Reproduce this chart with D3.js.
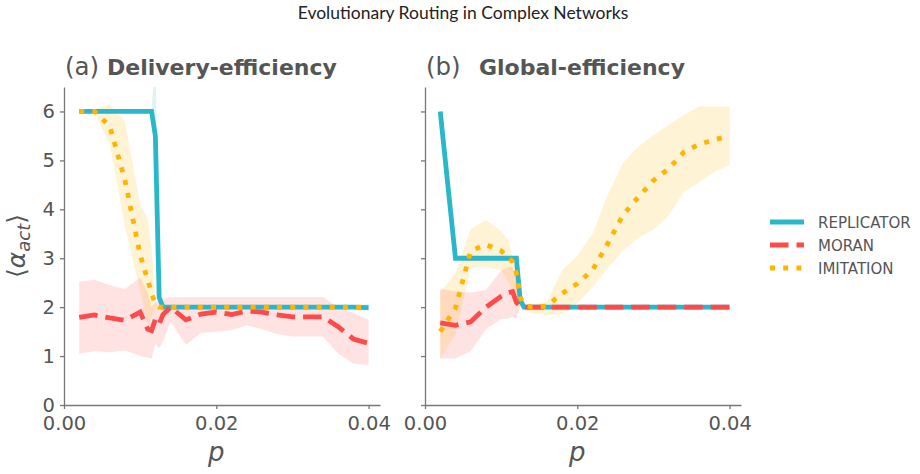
<!DOCTYPE html>
<html lang="en">
<head>
  <meta charset="UTF-8" />
  <title>Evolutionary Routing in Complex Networks</title>
  <script src="https://d3js.org/d3.v7.min.js"></script>
  <style>
    body { margin: 0; background: #fff; }
    svg { display: block; font-family: 'DejaVu Sans', sans-serif; }
    .axis path, .axis line { stroke: #777; stroke-width: 1.3px; }
    .axis text { fill: #555; font-size: 19.5px; font-family: 'DejaVu Sans', sans-serif; }
  </style>
</head>
<body>
  <svg id="chart" width="920" height="474"></svg>

  <script>
    // p values shared by every series
    const P = [0.002, 0.004, 0.006, 0.008, 0.010, 0.011, 0.0115, 0.012, 0.0125, 0.013, 0.014, 0.016,
               0.018, 0.020, 0.022, 0.024, 0.026, 0.028, 0.030, 0.032, 0.034, 0.036, 0.038, 0.040];

    // (a) Delivery-efficiency
    const repA   = [6, 6, 6, 6, 6, 6, 6, 5.5, 2.2, 2, 2, 2, 2, 2, 2, 2, 2, 2, 2, 2, 2, 2, 2, 1.99];
    const repALo = [6, 6, 6, 6, 6, 6, 6, 5.0, 2.2, 2, 2, 2, 2, 2, 2, 2, 2, 2, 2, 2, 2, 2, 1.98, 1.93];
    const repAHi = [6, 6, 6, 6, 6, 6, 6, 7.2, 2.2, 2, 2, 2, 2, 2, 2, 2, 2, 2, 2, 2, 2, 2, 2.02, 2.07];
    const morA   = [1.79, 1.84, 1.78, 1.73, 1.9, 1.55, 1.52, 1.75, 1.65, 1.85, 2.0, 1.74, 1.86, 1.9, 1.85, 1.92, 1.9, 1.84, 1.8, 1.8, 1.8, 1.6, 1.35, 1.26];
    const morALo = [1.05, 1.1, 1.08, 1.12, 1.0, 0.97, 0.95, 1.26, 1.16, 1.3, 1.7, 1.23, 1.47, 1.5, 1.53, 1.63, 1.55, 1.45, 1.4, 1.4, 1.4, 1.05, 0.85, 0.82];
    const morAHi = [2.52, 2.56, 2.45, 2.37, 2.6, 2.3, 2.0, 2.1, 2.15, 2.18, 2.2, 2.2, 2.21, 2.21, 2.21, 2.21, 2.21, 2.21, 2.21, 2.21, 2.21, 2.0, 1.88, 1.74];
    const imiA   = [6, 6, 5.7, 4.6, 3.07, 2.55, 2.3, 2.05, 2, 2, 2, 2, 2, 2, 2, 2, 2, 2, 2, 2, 2, 2, 2, 2];
    const imiALo = [6, 5.97, 5.35, 3.65, 2.35, 1.65, 1.8, 2, 2, 2, 2, 2, 2, 2, 2, 2, 2, 2, 2, 2, 2, 2, 2, 2];
    const imiAHi = [6, 6.03, 6.15, 5.8, 4.1, 3.8, 3.2, 2.1, 2, 2, 2, 2, 2, 2, 2, 2, 2, 2, 2, 2, 2, 2, 2, 2];

    // (b) Global-efficiency
    const repB   = [6, 3, 3, 3, 3, 3, 3, 3, 2.15, 2, 2, 2, 2, 2, 2, 2, 2, 2, 2, 2, 2, 2, 2, 2];
    const morB   = [1.68, 1.63, 1.7, 2.0, 2.22, 2.3, 2.32, 2.1, 2, 2, 2, 2, 2, 2, 2, 2, 2, 2, 2, 2, 2, 2, 2, 2];
    const morBLo = [0.95, 0.95, 1.1, 1.55, 1.76, 1.77, 1.8, 1.77, 2, 2, 2, 2, 2, 2, 2, 2, 2, 2, 2, 2, 2, 2, 2, 2];
    const morBHi = [2.38, 2.32, 2.3, 2.35, 2.75, 2.83, 2.83, 2.6, 2, 2, 2, 2, 2, 2, 2, 2, 2, 2, 2, 2, 2, 2, 2, 2];
    const imiB   = [1.5, 1.98, 3.15, 3.28, 3.15, 3.0, 2.93, 2.7, 2.2, 2.05, 2.0, 2.02, 2.28, 2.48, 2.76, 3.3, 3.88, 4.25, 4.59, 4.83, 5.17, 5.33, 5.42, 5.5];
    const imiBLo = [0.95, 1.45, 2.8, 2.82, 2.75, 2.5, 2.3, 2.15, 2.0, 1.95, 1.88, 1.84, 1.86, 2.08, 2.4, 2.8, 3.15, 3.42, 3.58, 3.87, 4.36, 4.55, 4.77, 4.9];
    const imiBHi = [2.3, 2.7, 3.6, 3.78, 3.55, 3.37, 3.0, 2.8, 2.3, 2.05, 2.05, 2.11, 2.75, 3.05, 3.5, 4.3, 4.95, 5.28, 5.52, 5.73, 5.93, 6.1, 6.1, 6.1];

    const xTicks = [0, 0.02, 0.04];
    const yTicks = [0, 1, 2, 3, 4, 5, 6];
    const legendNames = ["REPLICATOR", "MORAN", "IMITATION"];

    const colors = { rep: "#2ab7ca", mor: "#fe4a49", imi: "#ffb400" };
    const dashes = { rep: null, mor: "18.5,8", imi: "5,8.2" };

    const svg = d3.select("#chart");

    svg.append("text")
      .attr("x", 463).attr("y", 19)
      .attr("text-anchor", "middle")
      .attr("font-family", "Lato, sans-serif")
      .attr("font-size", "17.5px")
      .attr("fill", "#222")
      .text("Evolutionary Routing in Complex Networks");

    const panels = [
      { id: "a", left: 64, tag: "(a)", name: "Delivery-efficiency", nameX: 107, yLabels: true,
        series: [
          { key: "rep", y: repA, lo: repALo, hi: repAHi },
          { key: "mor", y: morA, lo: morALo, hi: morAHi },
          { key: "imi", y: imiA, lo: imiALo, hi: imiAHi }
        ] },
      { id: "b", left: 425, tag: "(b)", name: "Global-efficiency", nameX: 479, yLabels: false,
        series: [
          { key: "rep", y: repB, lo: repB, hi: repB },
          { key: "mor", y: morB, lo: morBLo, hi: morBHi },
          { key: "imi", y: imiB, lo: imiBLo, hi: imiBHi }
        ] }
    ];

    const plotTop = 87, plotBottom = 405, plotWidth = 316;

    panels.forEach(pn => {
      const x = d3.scaleLinear().domain([0, 0.0415]).range([pn.left, pn.left + plotWidth]);
      const y = d3.scaleLinear().domain([0, 6.5]).range([plotBottom, plotTop]);

      const g = svg.append("g");
      g.append("clipPath").attr("id", "clip-" + pn.id)
        .append("rect")
        .attr("x", pn.left).attr("y", plotTop)
        .attr("width", plotWidth).attr("height", plotBottom - plotTop);

      const plot = g.append("g").attr("clip-path", `url(#clip-${pn.id})`);

      // shaded bands first
      pn.series.forEach(s => {
        const area = d3.area()
          .x((d, i) => x(P[i]))
          .y0((d, i) => y(s.lo[i]))
          .y1((d, i) => y(s.hi[i]));
        plot.append("path")
          .datum(s.y)
          .attr("d", area)
          .attr("fill", colors[s.key])
          .attr("fill-opacity", 0.16)
          .attr("stroke", "none");
      });

      // mean lines
      pn.series.forEach(s => {
        const line = d3.line()
          .x((d, i) => x(P[i]))
          .y(d => y(d));
        plot.append("path")
          .datum(s.y)
          .attr("d", line)
          .attr("fill", "none")
          .attr("stroke", colors[s.key])
          .attr("stroke-width", 4.8)
          .attr("stroke-dasharray", dashes[s.key])
          .attr("stroke-linejoin", "miter")
          .attr("stroke-linecap", "butt");
      });

      // axes
      g.append("g").attr("class", "axis")
        .attr("transform", `translate(0,${plotBottom})`)
        .call(d3.axisBottom(x).tickValues(xTicks).tickFormat(d3.format(".2f"))
          .tickSize(4).tickSizeOuter(0).tickPadding(7));

      g.append("g").attr("class", "axis")
        .attr("transform", `translate(${pn.left},0)`)
        .call(d3.axisLeft(y).tickValues(yTicks)
          .tickFormat(pn.yLabels ? d3.format("d") : () => "")
          .tickSize(4).tickSizeOuter(0).tickPadding(5));

      // panel title
      const t = svg.append("text").attr("y", 75).attr("fill", "#555");
      t.append("tspan").attr("x", pn.left + 1).attr("font-size", "24.5px").text(pn.tag);
      t.append("tspan").attr("x", pn.nameX).attr("font-size", "22px").attr("font-weight", "bold").text(pn.name);

      // x label
      svg.append("text")
        .attr("x", x(0.02)).attr("y", 461)
        .attr("text-anchor", "middle")
        .attr("font-size", "26px")
        .attr("font-style", "italic")
        .attr("fill", "#555")
        .text("p");
    });

    // y label <alpha_act>
    const yl = svg.append("text")
      .attr("transform", "translate(25,246) rotate(-90)")
      .attr("text-anchor", "middle")
      .attr("font-size", "25px")
      .attr("fill", "#555");
    yl.append("tspan").text("⟨");
    yl.append("tspan").attr("font-style", "italic").text("α");
    yl.append("tspan").attr("font-style", "italic").attr("font-size", "18px").attr("dy", 5).text("act");
    yl.append("tspan").attr("dy", -5).text("⟩");

    // legend
    const keys = ["rep", "mor", "imi"];
    const lg = svg.append("g");
    keys.forEach((k, i) => {
      const yy = 222 + i * 23;
      lg.append("line")
        .attr("x1", 770).attr("x2", 804)
        .attr("y1", yy).attr("y2", yy)
        .attr("stroke", colors[k])
        .attr("stroke-width", 4.8)
        .attr("stroke-dasharray", dashes[k]);
      lg.append("text")
        .attr("x", 818).attr("y", yy + 5.5)
        .attr("font-size", "15px")
        .attr("fill", "#555")
        .text(legendNames[i]);
    });
  </script>
</body>
</html>
